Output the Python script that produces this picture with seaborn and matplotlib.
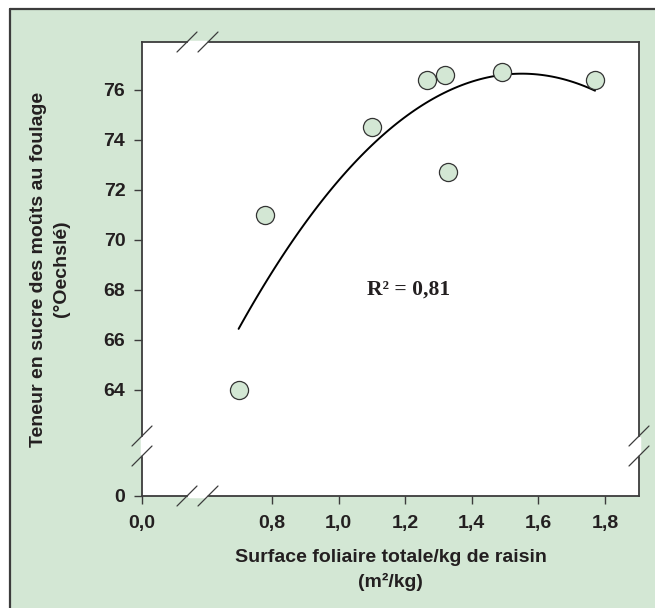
import numpy as np
import pandas as pd
import matplotlib
matplotlib.use("Agg")
import matplotlib.pyplot as plt
from matplotlib.lines import Line2D
from matplotlib.patches import Rectangle
import seaborn as sns

# Leaf area per kg of grapes (m²/kg) vs. must sugar content at crushing (°Oechslé)
surface = [0.70, 0.78, 1.10, 1.265, 1.32, 1.33, 1.49, 1.77]
sugar = [64.0, 71.0, 74.5, 76.4, 76.6, 72.7, 76.7, 76.4]

x_ticks = [0.8, 1.0, 1.2, 1.4, 1.6, 1.8]
x_tick_labels = ["0,8", "1,0", "1,2", "1,4", "1,6", "1,8"]
y_ticks = [64, 66, 68, 70, 72, 74, 76]
y_tick_labels = ["64", "66", "68", "70", "72", "74", "76"]
r2_label = "R² = 0,81"

df = pd.DataFrame({"surface": surface, "sugar": sugar})

GREEN = "#d3e7d4"
DARK = "#3c3c3c"
TEXT = "#231f20"

sns.set_theme(style="ticks")
plt.rcParams["font.family"] = ["Liberation Sans", "DejaVu Sans"]
plt.rcParams["font.weight"] = "bold"

W, H = 655, 608
fig = plt.figure(figsize=(W / 100, H / 100), dpi=100)
fig.patch.set_facecolor("white")

# green panel with dark border on left and top
fig.add_artist(Rectangle((10 / W, 0), 1 - 10 / W, 1 - 9 / H,
                         transform=fig.transFigure, facecolor=GREEN,
                         edgecolor="none", zorder=0))
fig.add_artist(Line2D([10 / W, 10 / W], [0, 1 - 9 / H], transform=fig.transFigure,
                      color=DARK, lw=1.6, zorder=1))
fig.add_artist(Line2D([10 / W, 1], [1 - 9 / H, 1 - 9 / H], transform=fig.transFigure,
                      color=DARK, lw=1.6, zorder=1))

left, right, top, bottom = 142, 639, 42, 496
ax = fig.add_axes([left / W, 1 - bottom / H, (right - left) / W, (bottom - top) / H])
ax.set_facecolor("white")

x_lo, x_hi = 0.41, 1.902
y_lo, y_hi = 59.74, 77.9
ax.set_xlim(x_lo, x_hi)
ax.set_ylim(y_lo, y_hi)

sns.regplot(data=df, x="surface", y="sugar", order=2, ci=None, truncate=True,
            scatter=False, ax=ax, line_kws=dict(color="black", lw=1.4, zorder=2))
sns.scatterplot(data=df, x="surface", y="sugar", ax=ax, s=170, color=GREEN,
                edgecolor="#333333", linewidth=0.9, zorder=3)

ax.set_xticks([x_lo] + x_ticks)
ax.set_xticklabels(["0,0"] + x_tick_labels)
ax.set_yticks([y_lo] + y_ticks)
ax.set_yticklabels(["0"] + y_tick_labels)
ax.tick_params(axis="both", direction="out", length=6, width=1.0, color=DARK,
               labelsize=14, labelcolor=TEXT)
for lab in ax.get_xticklabels() + ax.get_yticklabels():
    lab.set_fontweight("bold")
ax.tick_params(axis="x", pad=8)
ax.tick_params(axis="y", pad=6)

for side in ["left", "right", "top", "bottom"]:
    ax.spines[side].set_visible(True)
    ax.spines[side].set_color(DARK)
    ax.spines[side].set_linewidth(1.3)

ax.set_xlabel("Surface foliaire totale/kg de raisin\n(m²/kg)", fontsize=14,
              fontweight="bold", color=TEXT, labelpad=12, linespacing=1.5)
ax.set_ylabel("Teneur en sucre des moûts au foulage\n(°Oechslé)", fontsize=14,
              fontweight="bold", color=TEXT, labelpad=24, linespacing=1.45)

ax.text(1.21, 68.0, r2_label, ha="center", va="center", fontsize=15.5,
        fontweight="bold", family=["Liberation Serif", "DejaVu Serif"], color=TEXT)

# axis-break marks on all four spines
def px(x, y):
    return x / W, 1 - y / H

def add_break(cx, cy, along):
    # two slashes centred on the spine, with the spine hidden between them
    d = 10
    if along == "h":
        c1, c2 = (cx - 10.5, cy), (cx + 10.5, cy)
        gap = [px(c1[0] + 2, cy), px(c2[0] - 2, cy)]
    else:
        c1, c2 = (cx, cy - 10), (cx, cy + 10)
        gap = [px(cx, c1[1] + 2), px(cx, c2[1] - 2)]
    fig.add_artist(Line2D([gap[0][0], gap[1][0]], [gap[0][1], gap[1][1]],
                          transform=fig.transFigure, color="white", lw=2.5, zorder=5))
    for c in (c1, c2):
        a = px(c[0] - d, c[1] + d)
        b = px(c[0] + d, c[1] - d)
        fig.add_artist(Line2D([a[0], b[0]], [a[1], b[1]], transform=fig.transFigure,
                              color=DARK, lw=0.9, zorder=6))

add_break(197.5, top, "h")
add_break(197.5, bottom, "h")
add_break(left, 446, "v")
add_break(right, 446, "v")

fig.savefig("out.png", dpi=100, facecolor=fig.get_facecolor())
